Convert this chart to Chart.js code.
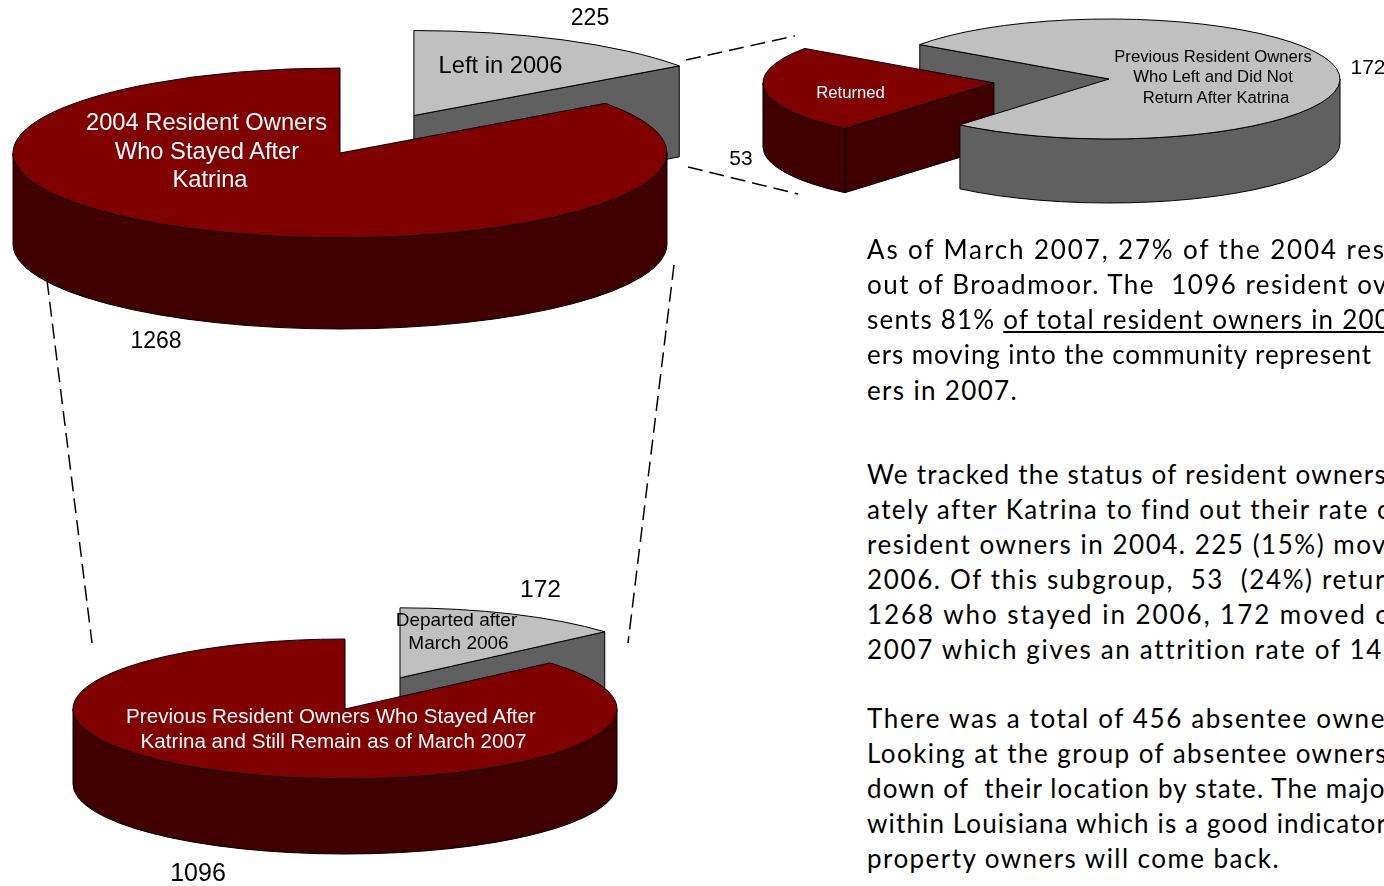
<!DOCTYPE html>
<html><head><meta charset="utf-8">
<script src="https://cdn.jsdelivr.net/npm/chart.js@4"></script>
<style>
html,body{margin:0;padding:0;background:#fff;width:1384px;height:886px;overflow:hidden}
#stage{position:relative;width:1384px;height:886px;overflow:hidden}
canvas{position:absolute}
svg{position:absolute;left:0;top:0}
.lab{position:absolute;font-family:"Liberation Sans",Arial,sans-serif;white-space:nowrap;transform:translate(-50%,-50%);line-height:1}
.body{position:absolute;left:867px;font-family:Lato,sans-serif;font-size:26px;color:#000;white-space:pre;line-height:1;transform:translateY(-50%)}
.body u{text-decoration-thickness:1.5px;text-underline-offset:2px}
</style></head><body><div id="stage">
<svg width="1384" height="886" id="links"></svg>
<canvas id="pie1"></canvas><canvas id="pie2"></canvas><canvas id="pie3"></canvas>
</div>
<script>
// ---- data ----
const pie1Categories = ["Left in 2006", "2004 Resident Owners Who Stayed After Katrina"];
const pie1Values = [225, 1268];
const pie2Categories = ["Previous Resident Owners Who Left and Did Not Return After Katrina", "Returned"];
const pie2Values = [172, 53];
const pie3Categories = ["Departed after March 2006", "Previous Resident Owners Who Stayed After Katrina and Still Remain as of March 2007"];
const pie3Values = [172, 1096];
const sliceTopColors = {gray:"#C0C0C0", red:"#800000"};
const sliceWallColors = {gray:"#606060", red:"#400000"};
const bodyLines = [
 ["As of March 2007, 27% of the 2004 res",249,1386],
 ["out of Broadmoor. The  1096 resident ov",284,1388],
 ["sents 81% <u>of total resident owners in 200</u>",319,1391],
 ["ers moving into the community represent",354,1372],
 ["ers in 2007.",390,1018],
 ["We tracked the status of resident owners",474,1387],
 ["ately after Katrina to find out their rate o",509,1392],
 ["resident owners in 2004. 225 (15%) mov",544,1387],
 ["2006. Of this subgroup,  53  (24%) retur",579,1386],
 ["1268 who stayed in 2006, 172 moved o",614,1392],
 ["2007 which gives an attrition rate of 14%",649,1405],
 ["There was a total of 456 absentee owne",718,1386],
 ["Looking at the group of absentee owners",753,1388],
 ["down of  their location by state. The majo",788,1386],
 ["within Louisiana which is a good indicator",823,1387],
 ["property owners will come back.",858,1280]
];

// ---- layout of the three pies ----
const pieSetups = [
 {id:"pie1",labels:pie1Categories,values:pie1Values,colors:["gray","red"],cx:339.5,cy:152.5,rx:327,ry:85,depth:91,rotation:0,explode:[162,0]},
 {id:"pie2",labels:pie2Categories,values:pie2Values,colors:["gray","red"],cx:1109,cy:79,rx:231,ry:60,depth:64,rotation:305,explode:[0,116]},
 {id:"pie3",labels:pie3Categories,values:pie3Values,colors:["gray","red"],cx:345,cy:709,rx:272,ry:70,depth:75,rotation:0,explode:[133,0]}
];

function pie3d(s){
  const k = s.ry/s.rx;
  const sy = (y,cy)=>cy+(y-cy)*k;
  function stroke(ctx){ctx.lineWidth=1;ctx.strokeStyle="#000";ctx.lineJoin="round";ctx.stroke();}
  return {
    id:"pie3d",
    afterDatasetsUpdate(chart){
      chart.getDatasetMeta(0).data.forEach((el,i)=>{
        const mid=(el.startAngle+el.endAngle)/2;
        el.x+=Math.cos(mid)*s.explode[i];
        el.y+=Math.sin(mid)*s.explode[i];
      });
    },
    beforeDatasetsDraw(chart){
      const ctx=chart.ctx, arcs=chart.getDatasetMeta(0).data;
      const cy=(chart.chartArea.top+chart.chartArea.bottom)/2, d=s.depth;
      // cut faces, back slice first
      arcs.forEach((el,i)=>{
        const X=el.x,Y=sy(el.y,cy),R=el.outerRadius;
        const face=a=>{
          const px=X+R*Math.cos(a),py=Y+R*k*Math.sin(a);
          ctx.beginPath();ctx.moveTo(X,Y);ctx.lineTo(px,py);ctx.lineTo(px,py+d);ctx.lineTo(X,Y+d);ctx.closePath();
          ctx.fillStyle=sliceWallColors[s.colors[i]];ctx.fill();stroke(ctx);
        };
        if(-Math.cos(el.startAngle)>1e-6) face(el.startAngle);
        if(Math.cos(el.endAngle)>1e-6) face(el.endAngle);
      });
      // rim walls, front slice first
      [...arcs.keys()].reverse().forEach(i=>{
        const el=arcs[i],X=el.x,Y=sy(el.y,cy),R=el.outerRadius;
        for(let n=-3;n<=3;n++){
          const lo=Math.max(el.startAngle,2*Math.PI*n),hi=Math.min(el.endAngle,2*Math.PI*n+Math.PI);
          if(hi<=lo) continue;
          ctx.beginPath();
          ctx.ellipse(X,Y,R,R*k,0,lo,hi,false);
          ctx.ellipse(X,Y+d,R,R*k,0,hi,lo,true);
          ctx.closePath();
          ctx.fillStyle=sliceWallColors[s.colors[i]];ctx.fill();stroke(ctx);
        }
      });
      ctx.save();
      ctx.translate(0,cy);ctx.scale(1,k);ctx.translate(0,-cy);
    },
    afterDatasetsDraw(chart){
      const ctx=chart.ctx,cy=(chart.chartArea.top+chart.chartArea.bottom)/2;
      ctx.restore();
      chart.getDatasetMeta(0).data.forEach(el=>{
        const X=el.x,Y=sy(el.y,cy),R=el.outerRadius;
        ctx.beginPath();ctx.moveTo(X,Y);
        ctx.ellipse(X,Y,R,R*k,0,el.startAngle,el.endAngle,false);
        ctx.closePath();stroke(ctx);
      });
    }
  };
}

pieSetups.forEach(s=>{
  const cv=document.getElementById(s.id);
  const halfW=s.rx+Math.max(...s.explode)+20, halfH=s.ry+s.depth+60;
  cv.width=2*halfW;cv.height=2*halfH;
  cv.style.width=2*halfW+"px";cv.style.height=2*halfH+"px";
  cv.style.left=(s.cx-halfW)+"px";cv.style.top=(s.cy-halfH)+"px";
  new Chart(cv,{
    type:"pie",
    data:{labels:s.labels,datasets:[{data:s.values,
      backgroundColor:s.colors.map(c=>sliceTopColors[c]),borderWidth:0,clip:false}]},
    options:{responsive:false,animation:false,devicePixelRatio:1,radius:s.rx,rotation:s.rotation,
      events:[],layout:{padding:0},
      plugins:{legend:{display:false},tooltip:{enabled:false},title:{display:false}}},
    plugins:[pie3d(s)]
  });
});

// ---- dashed connectors ----
const links=[[686,60,795,36],[688,167,798,194],[47,280,92,643],[674,265,628,643]];
document.getElementById("links").innerHTML=links.map(l=>
 `<line x1="${l[0]}" y1="${l[1]}" x2="${l[2]}" y2="${l[3]}" stroke="#000" stroke-width="1.5" stroke-dasharray="15 7"/>`).join("");

// ---- labels ----
const labels=[
 ["225",590,17,23,"#000"],["1268",156,340,23,"#000"],["Left in 2006",500.5,65.5,23.7,"#000"],
 ["2004 Resident Owners",206.5,122.5,23.7,"#fff"],["Who Stayed After",207,151.5,23.7,"#fff"],["Katrina",210,179.5,23.7,"#fff"],
 ["Previous Resident Owners",1213,56.5,16.7,"#000"],["Who Left and Did Not",1213,76.5,16.7,"#000"],["Return After Katrina",1216,97.5,16.7,"#000"],
 ["Returned",850.5,92.5,16.7,"#fff"],["172",1368,66,21,"#000"],["53",741,157,21,"#000"],
 ["172",540.5,589,24.6,"#000"],["1096",198,872,25,"#000"],
 ["Departed after",456.5,619,19,"#000"],["March 2006",458.5,642,19,"#000"],
 ["Previous Resident Owners Who Stayed After",331,716,20.6,"#fff"],["Katrina and Still Remain as of March 2007",333.5,741,20.6,"#fff"]
];
const stage=document.getElementById("stage");
labels.forEach(l=>{const d=document.createElement("div");d.className="lab";d.textContent=l[0];
 d.style.left=l[1]+"px";d.style.top=l[2]+"px";d.style.fontSize=l[3]+"px";d.style.color=l[4];stage.appendChild(d);});
bodyLines.forEach(l=>{const d=document.createElement("div");d.className="body";d.innerHTML=l[0];d.style.top=l[1]+"px";stage.appendChild(d);
 const w=d.getBoundingClientRect().width, n=d.textContent.length;
 d.style.letterSpacing=((l[2]-867-w)/n)+"px";});
</script></body></html>
